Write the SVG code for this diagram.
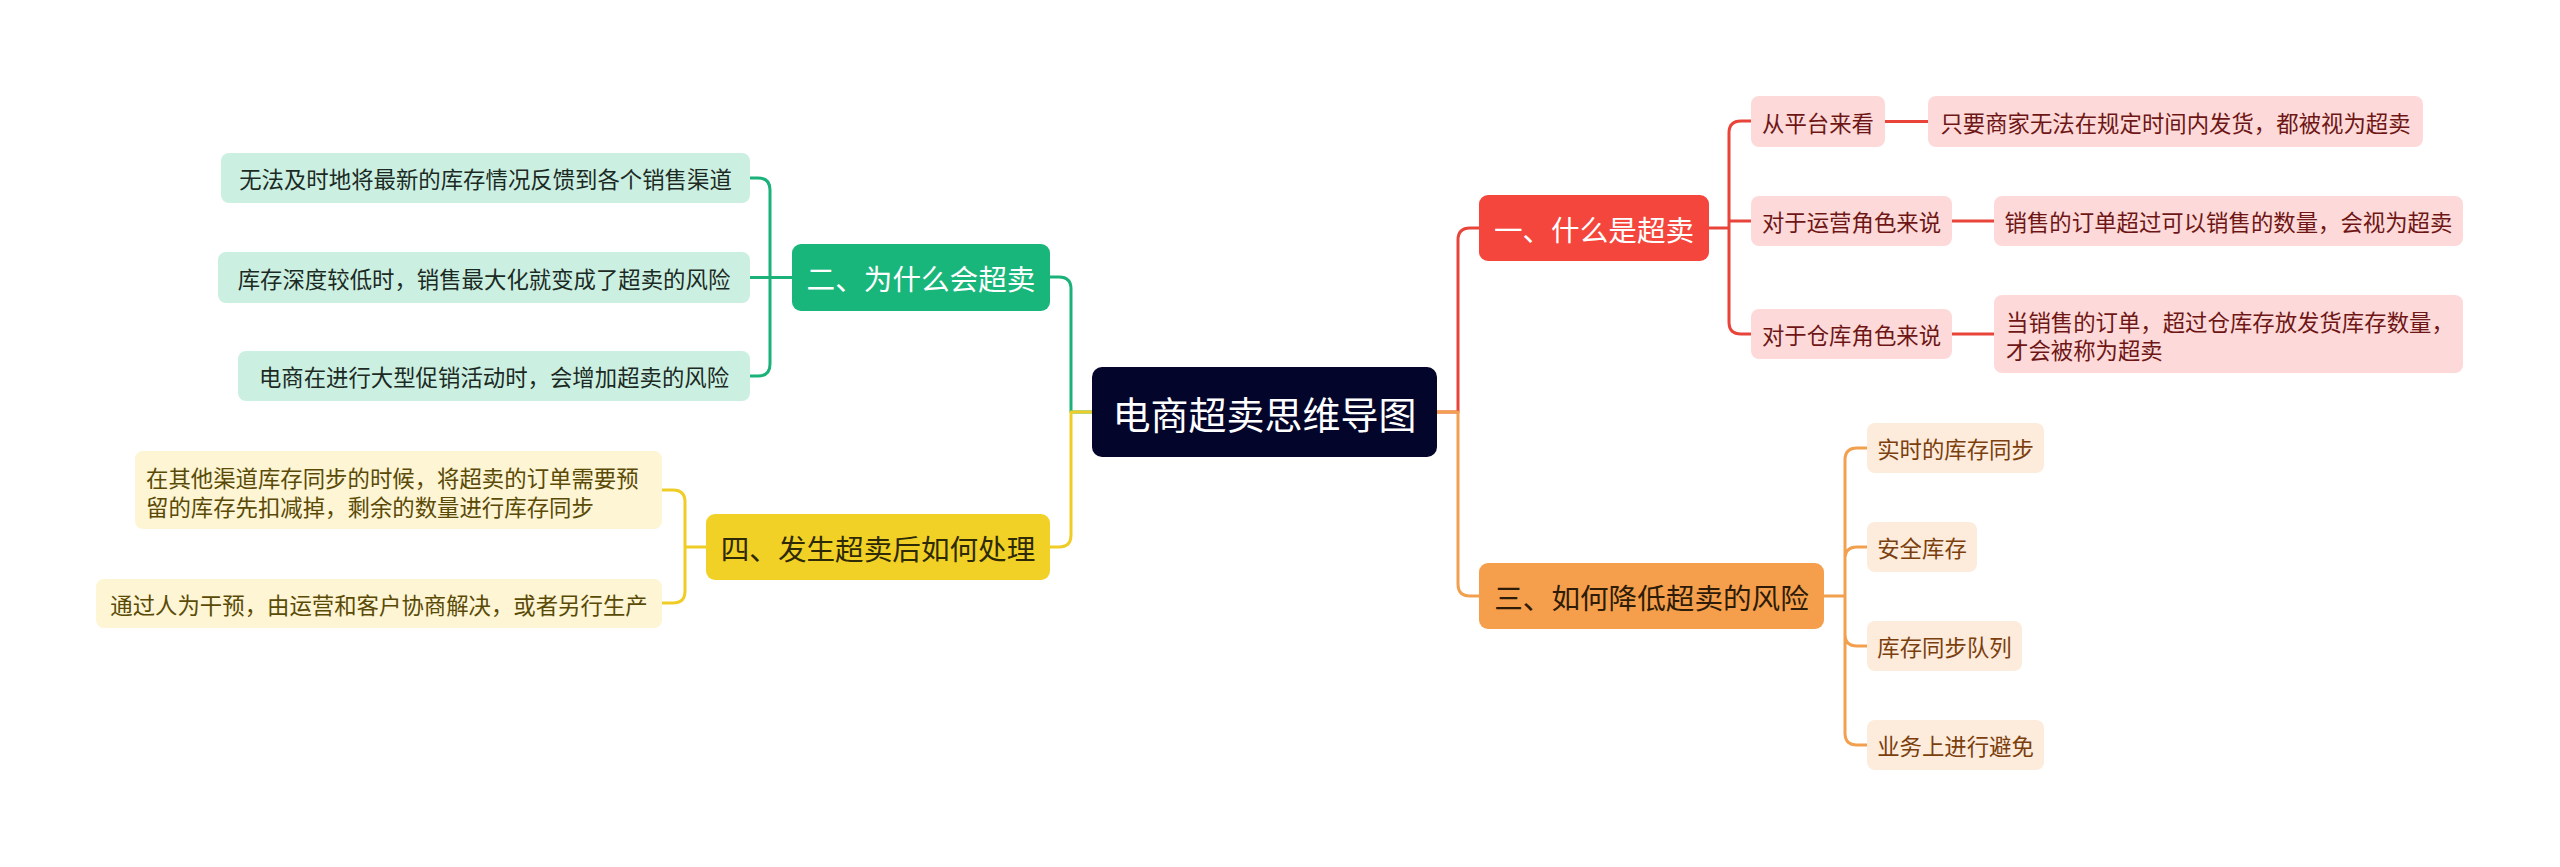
<svg xmlns="http://www.w3.org/2000/svg" width="2560" height="867" viewBox="0 0 2560 867">
<style>
text{font-family:"Noto Sans CJK SC","Noto Sans",sans-serif;dominant-baseline:central}
.c{fill:none;stroke-width:3;stroke-linejoin:round;stroke-linecap:round}
.red{stroke:#e8443a}.grn{stroke:#1bb27a}.org{stroke:#f2a04e}.yel{stroke:#f0cd26}
.main{font-size:28.6px;text-anchor:middle}
.leaf{font-size:22.4px}
.mid{text-anchor:middle}
</style>
<rect width="2560" height="867" fill="#ffffff"/>
<g id="connectors">
<path class="c red" d="M1437 412 H1458 V240 Q1458 228 1470 228 H1479"/>
<path class="c org" d="M1437 412 H1458 V584 Q1458 596 1470 596 H1479"/>
<path class="c grn" d="M1092 412 H1071 V289 Q1071 277 1059 277 H1050"/>
<path class="c yel" d="M1092 412 H1071 V535 Q1071 547 1059 547 H1050"/>
<path class="c red" d="M1709 228 H1729 M1729 228 V133 Q1729 121 1741 121 H1751 M1729 221 H1751 M1729 228 V322 Q1729 334 1741 334 H1751"/>
<path class="c red" d="M1885 121.5 H1928 M1952 221 H1994 M1952 334 H1994"/>
<path class="c org" d="M1824 596 H1845 M1845 596 V460 Q1845 448 1857 448 H1867 M1845 596 V559 Q1845 547 1857 547 H1867 M1845 596 V634 Q1845 646 1857 646 H1867 M1845 596 V733 Q1845 745 1857 745 H1867"/>
<path class="c grn" d="M792 277.5 H770 M770 277.5 V190 Q770 178 758 178 H750 M770 277.5 H750 M770 277.5 V364 Q770 376 758 376 H750"/>
<path class="c yel" d="M706 547 H685 M685 547 V502 Q685 490 673 490 H662 M685 547 V591 Q685 603 673 603 H662"/>
</g>
<g id="root">
<rect x="1092" y="367" width="345" height="90" rx="10" fill="#03052a"/>
<text x="1264.5" y="412" font-size="38" text-anchor="middle" fill="#ffffff">电商超卖思维导图</text>
</g>
<g id="n1">
<rect x="1479" y="195" width="230" height="66" rx="9" fill="#f4463c"/>
<text class="main" x="1594" y="228" fill="#ffffff">一、什么是超卖</text>
</g>
<g id="n1a">
<rect x="1751" y="96" width="134" height="51" rx="8" fill="#fddad9"/>
<text class="leaf mid" x="1818" y="121.5" fill="#6e1616">从平台来看</text>
</g>
<g id="n1a1">
<rect x="1928" y="96" width="495" height="51" rx="8" fill="#fddad9"/>
<text class="leaf mid" x="2175.5" y="121.5" fill="#6e1616">只要商家无法在规定时间内发货，都被视为超卖</text>
</g>
<g id="n1b">
<rect x="1751" y="196" width="201" height="50" rx="8" fill="#fddad9"/>
<text class="leaf mid" x="1851.5" y="221" fill="#6e1616">对于运营角色来说</text>
</g>
<g id="n1b1">
<rect x="1994" y="196" width="469" height="50" rx="8" fill="#fddad9"/>
<text class="leaf mid" x="2228.5" y="221" fill="#6e1616">销售的订单超过可以销售的数量，会视为超卖</text>
</g>
<g id="n1c">
<rect x="1751" y="309" width="201" height="50" rx="8" fill="#fddad9"/>
<text class="leaf mid" x="1851.5" y="334" fill="#6e1616">对于仓库角色来说</text>
</g>
<g id="n1c1">
<rect x="1994" y="295" width="469" height="78" rx="8" fill="#fddad9"/>
<text class="leaf" x="2006" y="321" fill="#6e1616">当销售的订单，超过仓库存放发货库存数量，</text>
<text class="leaf" x="2006" y="349" fill="#6e1616">才会被称为超卖</text>
</g>
<g id="n3">
<rect x="1479" y="563" width="345" height="66" rx="9" fill="#f59f4c"/>
<text class="main" x="1651.5" y="596" fill="#2e1c08">三、如何降低超卖的风险</text>
</g>
<g id="n3a">
<rect x="1867" y="423" width="177" height="50" rx="8" fill="#fdebdc"/>
<text class="leaf mid" x="1955.5" y="448" fill="#7a3f0c">实时的库存同步</text>
</g>
<g id="n3b">
<rect x="1867" y="522" width="110" height="50" rx="8" fill="#fdebdc"/>
<text class="leaf mid" x="1922" y="547" fill="#7a3f0c">安全库存</text>
</g>
<g id="n3c">
<rect x="1867" y="621" width="155" height="50" rx="8" fill="#fdebdc"/>
<text class="leaf mid" x="1944.5" y="646" fill="#7a3f0c">库存同步队列</text>
</g>
<g id="n3d">
<rect x="1867" y="720" width="177" height="50" rx="8" fill="#fdebdc"/>
<text class="leaf mid" x="1955.5" y="745" fill="#7a3f0c">业务上进行避免</text>
</g>
<g id="n2">
<rect x="792" y="244" width="258" height="67" rx="9" fill="#19b67b"/>
<text class="main" x="921" y="277.5" fill="#ffffff">二、为什么会超卖</text>
</g>
<g id="n2a">
<rect x="221" y="153" width="529" height="50" rx="8" fill="#cbf0e2"/>
<text class="leaf mid" x="485.5" y="178" fill="#1c2a24">无法及时地将最新的库存情况反馈到各个销售渠道</text>
</g>
<g id="n2b">
<rect x="218" y="252" width="532" height="51" rx="8" fill="#cbf0e2"/>
<text class="leaf mid" x="484" y="277.5" fill="#1c2a24">库存深度较低时，销售最大化就变成了超卖的风险</text>
</g>
<g id="n2c">
<rect x="238" y="351" width="512" height="50" rx="8" fill="#cbf0e2"/>
<text class="leaf mid" x="494" y="376" fill="#1c2a24">电商在进行大型促销活动时，会增加超卖的风险</text>
</g>
<g id="n4">
<rect x="706" y="514" width="344" height="66" rx="9" fill="#f2d126"/>
<text class="main" x="878" y="547" fill="#2e2a06">四、发生超卖后如何处理</text>
</g>
<g id="n4a">
<rect x="135" y="451" width="527" height="78" rx="8" fill="#fdf5d4"/>
<text class="leaf" x="146" y="477" fill="#5a4a06">在其他渠道库存同步的时候，将超卖的订单需要预</text>
<text class="leaf" x="146" y="506" fill="#5a4a06">留的库存先扣减掉，剩余的数量进行库存同步</text>
</g>
<g id="n4b">
<rect x="96" y="579" width="566" height="49" rx="8" fill="#fdf5d4"/>
<text class="leaf mid" x="379" y="603.5" fill="#5a4a06">通过人为干预，由运营和客户协商解决，或者另行生产</text>
</g>
</svg>
